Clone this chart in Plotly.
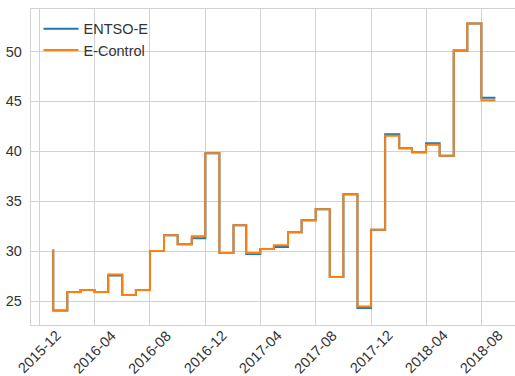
import plotly.graph_objects as go

# Monthly average prices, Jan 2016 - Sep 2018
months = [
    "2016-01", "2016-02", "2016-03", "2016-04", "2016-05", "2016-06",
    "2016-07", "2016-08", "2016-09", "2016-10", "2016-11", "2016-12",
    "2017-01", "2017-02", "2017-03", "2017-04", "2017-05", "2017-06",
    "2017-07", "2017-08", "2017-09", "2017-10", "2017-11", "2017-12",
    "2018-01", "2018-02", "2018-03", "2018-04", "2018-05", "2018-06",
    "2018-07", "2018-08", "2018-09",
]
entsoe = [
    30.15, 24.05, 25.9, 26.1, 25.9, 27.55,
    25.6, 26.1, 30.0, 31.6, 30.7, 31.3,
    39.8, 29.8, 32.6, 29.7, 30.2, 30.4,
    31.9, 33.1, 34.2, 27.4, 35.7, 24.3,
    32.15, 41.7, 40.3, 39.9, 40.8, 39.55,
    50.1, 52.8, 45.35,
]
econtrol = [
    30.15, 24.05, 25.9, 26.1, 25.9, 27.65,
    25.6, 26.1, 30.0, 31.6, 30.7, 31.5,
    39.8, 29.8, 32.6, 29.8, 30.2, 30.6,
    31.9, 33.1, 34.2, 27.4, 35.7, 24.45,
    32.15, 41.55, 40.3, 39.9, 40.65, 39.55,
    50.1, 52.8, 45.1,
]

tick_labels = ["2015-12", "2016-04", "2016-08", "2016-12", "2017-04",
               "2017-08", "2017-12", "2018-04", "2018-08"]
y_ticks = [25, 30, 35, 40, 45, 50]

FONT = "Liberation Sans, Arial, sans-serif"
FS = 14.5
GRID = "#d2d2d2"
TEXT = "#333333"

fig = go.Figure()
fig.add_trace(go.Scatter(x=months, y=entsoe, name="ENTSO-E", mode="lines",
                         legend="legend",
                         line=dict(color="#1f77b4", width=2, shape="vh")))
fig.add_trace(go.Scatter(x=months, y=econtrol, name="E-Control", mode="lines",
                         legend="legend2",
                         line=dict(color="#ff7f0e", width=2, shape="vh")))

# rotated date labels centred under each tick
for lab in tick_labels:
    fig.add_annotation(x=lab, y=0, xref="x", yref="paper", text=lab,
                       showarrow=False, textangle=-45, xanchor="center",
                       yanchor="top", yshift=0,
                       font=dict(family=FONT, size=FS, color=TEXT))

legend_style = dict(xanchor="left", yanchor="top", itemwidth=35,
                    bgcolor="rgba(0,0,0,0)", borderwidth=0,
                    font=dict(family=FONT, size=FS, color=TEXT))

fig.update_layout(
    width=515, height=376,
    margin=dict(l=31, r=0, t=9, b=51),
    paper_bgcolor="white", plot_bgcolor="white",
    font=dict(family=FONT, size=FS, color=TEXT),
    showlegend=True,
    legend=dict(x=0.0155, y=0.988, **legend_style),
    legend2=dict(x=0.0155, y=0.921, **legend_style),
    xaxis=dict(type="date", range=["2015-11-13", "2018-10-14"],
               tickvals=tick_labels, showticklabels=False,
               showgrid=True, gridcolor=GRID, gridwidth=1,
               showline=True, linecolor=GRID, linewidth=1.3, mirror=True,
               zeroline=False, ticks=""),
    yaxis=dict(range=[22.6, 54.25], tickvals=y_ticks,
               showgrid=True, gridcolor=GRID, gridwidth=1,
               showline=True, linecolor=GRID, linewidth=1.3, mirror=False,
               zeroline=False, ticks="", ticklabelstandoff=5,
               tickfont=dict(family=FONT, size=FS, color=TEXT)),
)

fig.write_html("out.html")
